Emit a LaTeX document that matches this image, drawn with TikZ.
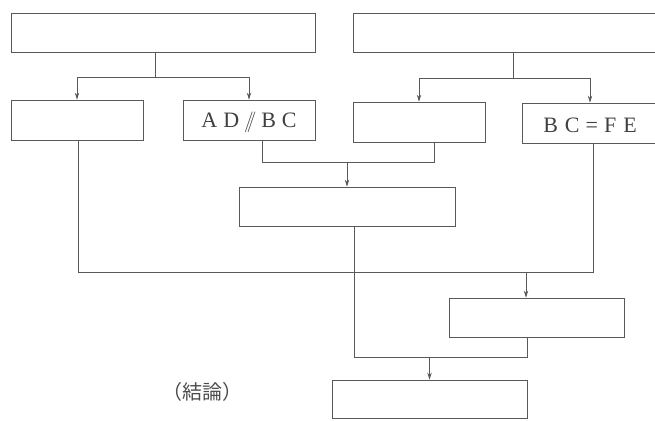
\documentclass[tikz,border=0pt]{standalone}
\usepackage{fontspec}
\setmainfont{Liberation Serif}
\newfontfamily\cjk{Noto Sans CJK JP}
\usetikzlibrary{arrows.meta}
\begin{document}
\begin{tikzpicture}[x=1pt,y=-1pt,
  box/.style={draw=black!65, line width=0.8pt, inner sep=0pt, text=black!75},
  link/.style={draw=black!65, line width=0.8pt},
  arr/.style={link, -{Stealth[length=7pt,width=4.5pt]}},
  lbl/.style={font=\fontsize{22}{24}\selectfont}]
\useasboundingbox (0,0) rectangle (655,420);
\clip (0,0) rectangle (655,420);
% boxes
\node[box, minimum width=304pt, minimum height=39pt] (A) at (163,32.5) {};
\node[box, minimum width=310pt, minimum height=39pt] (B) at (508,32.5) {};
\node[box, minimum width=132pt, minimum height=40pt] (C1) at (77,120) {};
\node[box, minimum width=132pt, minimum height=40pt] (C2) at (249,120) {};
\node[lbl, text=black!75] (t2) at (249,122) {A\kern6pt D\kern5pt$/\!\!/$\kern5pt B\kern6pt C};
\node[box, minimum width=132pt, minimum height=40pt] (C3) at (419,122) {};
\node[box, minimum width=140pt, minimum height=40pt] (C4) at (592,123) {};
\node[lbl, text=black!75] (t4) at (590,125) {B\kern7pt C\kern6pt =\kern6pt F\kern7pt E};
\node[box, minimum width=216pt, minimum height=39pt] (D) at (347,206.5) {};
\node[box, minimum width=175pt, minimum height=39pt] (E) at (536.5,317.5) {};
\node[box, minimum width=195pt, minimum height=38pt] (F) at (429.5,399) {};
\node[text=black!70, font=\cjk\fontsize{20}{22}\selectfont] (concl) at (202,392) {（結論）};
% junction coordinates
\coordinate (jA) at (155,77);
\coordinate (jB) at (513,78);
\coordinate (m1) at (262,162);
\coordinate (m2) at (434,162);
\coordinate (L1) at (78,272);
\coordinate (L2) at (593,272);
\coordinate (s1) at (354,272);
\coordinate (b1) at (354,357);
\coordinate (b2) at (527,357);
% top left split
\draw[link] (A.south -| jA) -- (jA);
\draw[arr] (jA) -| (C1.north);
\draw[arr] (jA) -| (C2.north);
% top right split
\draw[link] (B.south -| jB) -- (jB);
\draw[arr] (jB) -| (C3.north);
\draw[arr] (jB) -| ([xshift=-2pt]C4.north);
% middle merge
\draw[link] (C2.south -| m1) -- (m1) -- (m2) -- (C3.south -| m2);
\draw[arr] (D.north |- m1) -- (D.north);
% big loop
\draw[link] (C1.south -| L1) -- (L1) -- (L2) -- (C4.south -| L2);
\draw[arr] (E.north -| 526,0) ++(0,-25) -- (E.north -| 526,0);
% lower merge
\draw[link] (D.south -| s1) -- (b1) -- (b2) -- (E.south -| b2);
\draw[arr] (F.north |- b1) -- (F.north);
\end{tikzpicture}
\end{document}
